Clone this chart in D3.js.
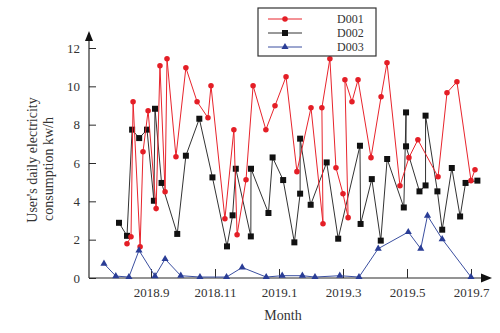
<!DOCTYPE html>
<html><head><meta charset="utf-8">
<script src="https://cdn.jsdelivr.net/npm/d3@7"></script>
<style>
body{margin:0;background:#fff}
svg{display:block}
text{font-family:"Liberation Serif","Times New Roman",serif;fill:#333}
</style>
</head><body><svg id="c" width="500" height="333"></svg>
<script>
// x values: month number counted from Jan 2018 = 1 (so 9 = 2018.9, 13 = 2019.1)
const seriesNames = ["D001", "D002", "D003"];
const d001Month = [8.25,8.375,8.44,8.66,8.75,8.91,9.16,9.28,9.44,9.5,9.78,10.09,10.44,10.78,10.875,11.31,11.59,11.69,11.97,12.19,12.59,12.875,13.22,13.56,14.0,14.375,14.34,14.59,14.78,15.0,15.16,15.06,15.28,15.47,15.875,16.19,16.375,16.78,17.06,17.34,17.97,18.25,18.56,19.0,19.125];
const d001Value = [1.79,2.15,9.2,1.63,6.59,8.73,3.62,11.07,4.5,11.44,6.33,10.97,9.2,8.36,10.03,3.09,7.74,2.26,5.13,10.03,7.74,8.99,10.5,5.55,8.88,2.83,8.88,11.44,5.75,4.4,3.15,10.34,9.2,10.34,6.28,9.46,11.23,4.81,6.28,7.21,5.28,9.67,10.24,5.08,5.65];
const d002Month = [8.0,8.25,8.41,8.63,8.875,9.09,9.125,9.33,9.82,10.09,10.51,10.92,11.375,11.55,11.65,12.12,12.125,12.67,12.8,13.13,13.48,13.66,13.66,13.99,14.49,14.85,15.53,15.55,15.9,16.18,16.38,16.9,16.97,16.97,17.39,17.58,17.58,17.95,18.1,18.4,18.66,18.83,19.2];
const d002Value = [2.88,2.2,7.74,7.3,7.74,4.03,8.83,4.96,2.3,6.38,8.31,5.25,1.65,3.27,5.7,2.17,5.7,3.39,6.29,5.11,1.86,4.4,7.27,3.82,6.03,2.05,6.9,2.82,5.16,1.95,6.21,3.68,8.64,6.87,4.52,4.83,8.47,4.52,2.52,5.74,3.21,4.96,5.08];
const d003Month = [7.53,7.9,8.31,8.625,9.125,9.44,9.93,10.53,11.36,11.85,12.6,13.1,13.73,14.125,14.9,15.5,16.1,17.04,17.43,17.64,18.1,19.0];
const d003Value = [0.75,0.1,0.05,1.44,0.1,0.99,0.12,0.05,0.05,0.55,0.05,0.12,0.12,0.05,0.12,0.05,1.53,2.4,1.53,3.25,2.03,0.05];
const xTickValues = [9,11,13,15,17,19];
const xTickLabels = ["2018.9","2018.11","2019.1","2019.3","2019.5","2019.7"];
const yTickValues = [0,2,4,6,8,10,12];
const xTitle = "Month";
const yTitleLines = ["User's daily electricity","consumption kw/h"];

const svg = d3.select("#c");
const x = d3.scaleLinear().domain([9,19]).range([151,471]);
const y = d3.scaleLinear().domain([0,12]).range([278,48]);
const pLeft = 89, pBottom = 278, pRight = 492, pTop = 31;
const axisColor = "#2b2b2b";

// y axis
const gy = svg.append("g").attr("transform",`translate(${pLeft},0)`)
  .call(d3.axisLeft(y).tickValues(yTickValues).tickSize(-7).tickPadding(9).tickFormat(d3.format("d")));
gy.select(".domain").remove();
gy.selectAll(".tick line").attr("stroke",axisColor);
gy.selectAll(".tick text").style("font-size","13px").attr("fill","#444");

// x axis
const gx = svg.append("g").attr("transform",`translate(0,${pBottom})`)
  .call(d3.axisBottom(x).tickValues(xTickValues).tickSize(-9).tickPadding(10).tickFormat((d,i)=>xTickLabels[i]));
gx.select(".domain").remove();
gx.selectAll(".tick line").attr("stroke",axisColor);
gx.selectAll(".tick text").style("font-size","13px").attr("fill","#444");

// axis lines with arrows
svg.append("line").attr("x1",pLeft).attr("x2",pLeft).attr("y1",pBottom).attr("y2",pTop+6).attr("stroke",axisColor).attr("stroke-width",1.2);
svg.append("line").attr("x1",pLeft).attr("x2",pRight-6).attr("y1",pBottom).attr("y2",pBottom).attr("stroke",axisColor).attr("stroke-width",1.2);
svg.append("path").attr("d",`M${pLeft},${pTop}L${pLeft-4},${pTop+10}L${pLeft+4},${pTop+10}Z`).attr("fill","#111");
svg.append("path").attr("d",`M${pRight},${pBottom}L${pRight-11},${pBottom-4.5}L${pRight-11},${pBottom+4.5}Z`).attr("fill","#111");

// titles
svg.append("text").attr("x",283).attr("y",320).attr("text-anchor","middle").style("font-size","14px").attr("fill","#333").text(xTitle);
svg.append("text").attr("transform","translate(37,160) rotate(-90)").attr("text-anchor","middle").style("font-size","14px").text(yTitleLines[0]);
svg.append("text").attr("transform","translate(53,169) rotate(-90)").attr("text-anchor","middle").style("font-size","14px").text(yTitleLines[1]);

const series = [
  {name:seriesNames[1], months:d002Month, values:d002Value, color:"#333333", mcolor:"#111111", shape:"square"},
  {name:seriesNames[0], months:d001Month, values:d001Value, color:"#e8242c", mcolor:"#e41e26", shape:"circle"},
  {name:seriesNames[2], months:d003Month, values:d003Value, color:"#3b4fa0", mcolor:"#2a3d96", shape:"triangle"}
];
const line = d3.line().x(d=>x(d[0])).y(d=>y(d[1]));
const symbols = {
  circle: d3.symbol().type(d3.symbolCircle).size(24),
  square: d3.symbol().type(d3.symbolSquare).size(36),
  triangle: d3.symbol().type(d3.symbolTriangle).size(22)
};
series.forEach(s=>{
  const pts = s.months.map((m,i)=>[m,s.values[i]]);
  svg.append("path").attr("d",line(pts)).attr("fill","none").attr("stroke",s.color).attr("stroke-width",1);
  svg.append("g").selectAll("path").data(pts).join("path")
    .attr("d",symbols[s.shape]())
    .attr("transform",d=>`translate(${x(d[0])},${y(d[1])})`)
    .attr("fill",s.mcolor);
});

// legend
const lg = svg.append("g");
lg.append("rect").attr("x",258).attr("y",8).attr("width",118).attr("height",48).attr("fill","#fff").attr("stroke","#333").attr("stroke-width",1.2);
const legendOrder = [series[1], series[0], series[2]];
legendOrder.forEach((s,i)=>{
  const ly = 19 + i*14;
  lg.append("line").attr("x1",268).attr("x2",302).attr("y1",ly).attr("y2",ly).attr("stroke",s.color).attr("stroke-width",1);
  lg.append("path").attr("d",symbols[s.shape]()).attr("transform",`translate(285,${ly})`).attr("fill",s.mcolor);
  lg.append("text").attr("x",337).attr("y",ly+4.2).style("font-size","12px").attr("fill","#333").text(s.name);
});
</script>
</body></html>
